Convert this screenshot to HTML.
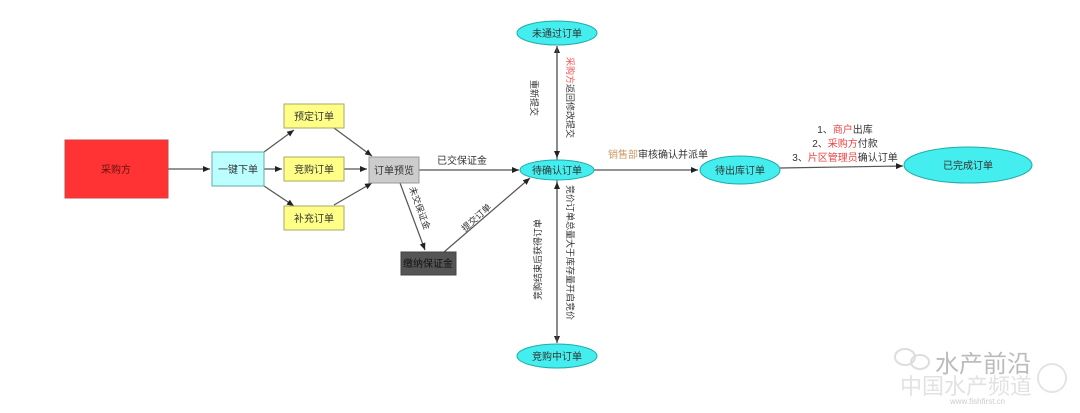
<!DOCTYPE html>
<html><head><meta charset="utf-8"><style>
body{margin:0;background:#fff;}
svg text{font-family:"Liberation Sans","Noto Sans CJK SC",sans-serif;}
</style></head><body>
<svg width="1080" height="408" viewBox="0 0 1080 408" xmlns="http://www.w3.org/2000/svg">
<defs><marker id="a" markerWidth="8" markerHeight="8" refX="7" refY="4" orient="auto" markerUnits="userSpaceOnUse"><path d="M0,1 L7,4 L0,7z" fill="#222"/></marker></defs>
<g stroke="#555" stroke-width="1.2" fill="none" marker-end="url(#a)">
<line x1="168" y1="169" x2="210" y2="169"/>
<line x1="264" y1="152" x2="294" y2="130"/>
<line x1="264" y1="169" x2="282" y2="169"/>
<line x1="264" y1="186" x2="294" y2="206"/>
<line x1="334" y1="128" x2="372" y2="156"/>
<line x1="344" y1="169" x2="367" y2="169"/>
<line x1="334" y1="205" x2="372" y2="183"/>
<line x1="419" y1="170" x2="519" y2="170"/>
<line x1="400" y1="183" x2="425" y2="250"/>
<line x1="444" y1="252" x2="530" y2="178"/>
<line x1="557" y1="160" x2="557" y2="46"/>
<line x1="557" y1="46" x2="557" y2="158"/>
<line x1="557" y1="180" x2="557" y2="343"/>
<line x1="557" y1="343" x2="557" y2="182"/>
<line x1="594" y1="170" x2="698" y2="170"/>
<line x1="780" y1="168" x2="903" y2="166"/>
</g>
<rect x="65" y="140" width="103" height="58" fill="#f33" stroke="#c44"/>
<text x="116" y="173" font-size="10" text-anchor="middle" fill="#611">采购方</text>
<rect x="212" y="152" width="52" height="34" fill="#bff" stroke="#6aa"/>
<text x="238" y="173" font-size="10" text-anchor="middle" fill="#333">一键下单</text>
<g fill="#ff8" stroke="#aa6">
<rect x="284" y="104" width="60" height="24"/><rect x="284" y="157" width="60" height="24"/><rect x="284" y="206" width="60" height="24"/></g>
<g font-size="10" text-anchor="middle" fill="#333">
<text x="314" y="120">预定订单</text><text x="314" y="173">竞购订单</text><text x="314" y="222">补充订单</text></g>
<rect x="369" y="157" width="50" height="26" fill="#ccc" stroke="#999"/>
<text x="394" y="174" font-size="10" text-anchor="middle" fill="#333">订单预览</text>
<rect x="401" y="252" width="55" height="23" fill="#555" stroke="#444"/>
<text x="428" y="267" font-size="10" text-anchor="middle" fill="#111">缴纳保证金</text>
<g fill="#4ee" stroke="#2aa">
<ellipse cx="557" cy="170" rx="37" ry="10"/>
<ellipse cx="557" cy="33" rx="40" ry="12"/>
<ellipse cx="557" cy="356" rx="40" ry="12"/>
<ellipse cx="740" cy="170" rx="40" ry="14"/>
<ellipse cx="968" cy="165" rx="64" ry="18"/></g>
<g font-size="10" text-anchor="middle" fill="#333">
<text x="557" y="174">待确认订单</text><text x="557" y="37">未通过订单</text><text x="557" y="360">竞购中订单</text>
<text x="740" y="174">待出库订单</text><text x="968" y="169">已完成订单</text>
<text x="462" y="164">已交保证金</text>
<text x="658" y="158"><tspan fill="#c96">销售部</tspan>审核确认并派单</text>
<text x="845" y="133">1、<tspan fill="#e44">商户</tspan>出库</text>
<text x="845" y="147">2、<tspan fill="#e44">采购方</tspan>付款</text>
<text x="845" y="161">3、<tspan fill="#e44">片区管理员</tspan>确认订单</text>
</g>
<g font-size="9" fill="#333">
<text transform="translate(409,188) rotate(70)">未交保证金</text>
<text transform="translate(465,232) rotate(-42)">提交订单</text>
<text transform="translate(531,80) rotate(90)">重新提交</text>
<text transform="translate(567,57) rotate(90)"><tspan fill="#e55">采购方</tspan>返回修改提交</text>
<text transform="translate(567,185) rotate(90)">竞价订单总量大于库存量开启竞价</text>
<text transform="translate(541,300) rotate(-90)">竞购结束后获得订单</text>
</g>
<g font-family="Liberation Sans,Noto Sans CJK SC,sans-serif">
<text x="935" y="372" font-size="24" fill="#bbb">水产前沿</text>
<text x="900" y="394" font-size="22" fill="#e2e2e2">中国水产频道</text>
<text x="950" y="404" font-size="8" fill="#ccc">www.fishfirst.cn</text>
</g>
<ellipse cx="905" cy="357" rx="10" ry="8" fill="none" stroke="#ddd" stroke-width="2"/>
<ellipse cx="920" cy="362" rx="9" ry="7" fill="none" stroke="#ddd" stroke-width="2"/>
<circle cx="1052" cy="378" r="14" fill="none" stroke="#e4e4e4" stroke-width="2"/>
</svg>
</body></html>
